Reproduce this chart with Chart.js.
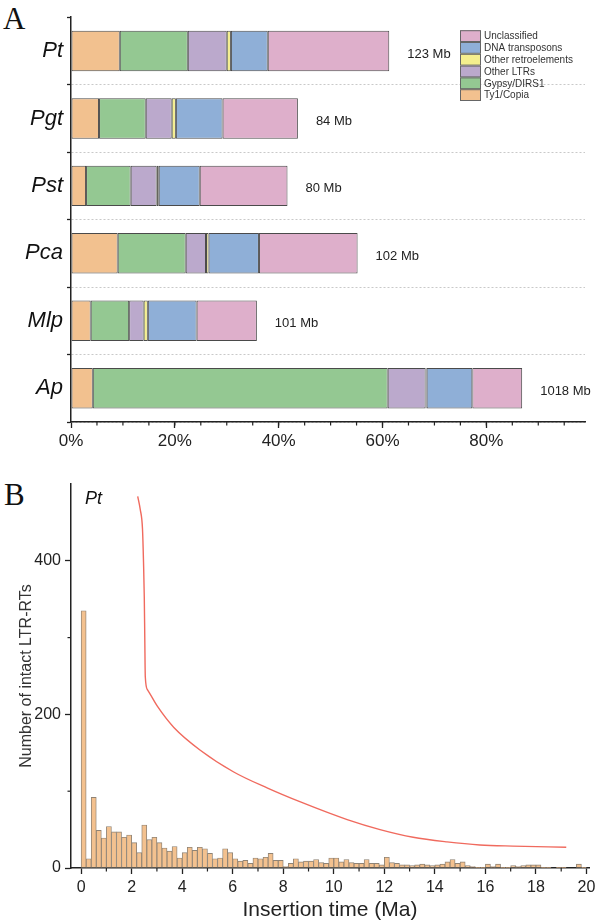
<!DOCTYPE html>
<html>
<head>
<meta charset="utf-8">
<script src="https://cdn.jsdelivr.net/npm/chart.js@4.4.0/dist/chart.umd.min.js"></script>
<style>
  body { margin: 0; background: #fff; width: 600px; height: 923px; position: relative; overflow: hidden; font-family: 'Liberation Sans', Arial, sans-serif; }
  #cajaA { position: absolute; left: 0; top: 0; }
  #cajaB { position: absolute; left: 0; top: 460px; }
  .letra { position: absolute; font-family: 'Liberation Serif', 'Times New Roman', serif; font-size: 31px; line-height: 1; color: #111; }
</style>
</head>
<body>
<div class="letra" style="left:3px;top:3px">A</div>
<div class="letra" style="left:4px;top:479px">B</div>
<canvas id="cajaA" width="600" height="460"></canvas>
<canvas id="cajaB" width="600" height="463"></canvas>
<script>
// ---------------- Panel A: composicion de elementos repetidos (% del genoma)
const especies = ['Pt', 'Pgt', 'Pst', 'Pca', 'Mlp', 'Ap'];
const tamanos = ['123 Mb', '84 Mb', '80 Mb', '102 Mb', '101 Mb', '1018 Mb'];
const ty1Copia = [9.4, 5.4, 2.9, 9.0, 3.8, 4.2];
const gypsyDirs = [13.1, 9.0, 8.6, 13.1, 7.4, 56.8];
const otrosLTR = [7.5, 5.0, 5.0, 3.9, 2.8, 7.3];
const otrosRetro = [0.8, 0.8, 0.4, 0.5, 0.8, 0.2];
const transposonesADN = [7.1, 9.0, 7.9, 9.7, 9.4, 8.8];
const sinClasificar = [23.4, 14.5, 16.9, 19.0, 11.6, 9.6];
const ticksPorcentaje = [0, 20, 40, 60, 80];

// ---------------- Panel B: tiempo de insercion de LTR-RTs intactos (bins de 0.2 Ma)
const anchoBin = 0.2;
const conteosPt = [
  335, 12, 92, 49, 39, 54, 47, 47, 40, 43,
  33, 20, 56, 37, 40, 33, 26, 22, 28, 13,
  20, 27, 23, 27, 25, 19, 12, 13, 25, 20,
  12, 9, 10, 6, 13, 12, 14, 19, 10, 10,
  2, 6, 12, 8, 9, 9, 11, 7, 6, 13,
  13, 8, 11, 7, 6, 6, 11, 6, 6, 4,
  14, 7, 6, 4, 4, 3, 4, 5, 4, 3,
  4, 5, 8, 11, 6, 8, 3, 2, 1, 1,
  5, 2, 5, 1, 1, 3, 2, 3, 4, 4,
  4, 1, 1, 0, 1, 1, 0, 0, 5, 1
];
// curva roja (acumulada / ajuste)
const curvaX = [2.24, 2.34, 2.43, 2.47, 2.50, 2.52, 2.54, 2.63, 3.03, 3.67, 4.73, 6.04, 7.38, 8.68, 10.53, 11.83, 13.14, 14.48, 15.78, 17.08, 19.2];
const curvaY = [484, 467, 441, 398, 353, 300, 249, 232, 210, 183, 153, 125, 104, 86, 63, 50, 40, 34, 30, 28.5, 27];

const colores = ['#F2C18F', '#94C892', '#BBA9CC', '#F4EE8E', '#8FAFD7', '#DEAFCB'];
const fuente = "'Liberation Sans', Arial, sans-serif";

// marcas menores de los ejes (el chart solo pone las mayores)
const marcasMenores = {
  id: 'marcasMenores',
  afterDraw(chart, args, opts) {
    const ctx = chart.ctx;
    (opts.ejes || []).forEach(e => {
      const escala = chart.scales[e.id];
      ctx.save();
      ctx.strokeStyle = '#222';
      ctx.lineWidth = 1.2;
      for (let v = e.desde; v <= e.hasta + 1e-9; v += e.paso) {
        const p = escala.getPixelForValue(v);
        ctx.beginPath();
        if (escala.isHorizontal()) { ctx.moveTo(p, escala.top); ctx.lineTo(p, escala.top + e.largo); }
        else { ctx.moveTo(escala.right, p); ctx.lineTo(escala.right - e.largo, p); }
        ctx.stroke();
      }
      ctx.restore();
    });
  }
};

// etiquetas "123 Mb" al final de cada barra
const etiquetasTamano = {
  id: 'etiquetasTamano',
  afterDatasetsDraw(chart) {
    const ctx = chart.ctx;
    const meta = chart.getDatasetMeta(chart.data.datasets.length - 1);
    ctx.save();
    ctx.font = '13px ' + fuente;
    ctx.fillStyle = '#222';
    ctx.textBaseline = 'middle';
    meta.data.forEach((barra, i) => {
      ctx.fillText(tamanos[i], barra.x + 18, barra.y + 3);
    });
    ctx.restore();
  }
};

// leyenda chica arriba a la derecha, en orden inverso
const leyendaA = {
  id: 'leyendaA',
  afterDraw(chart) {
    const ctx = chart.ctx;
    const area = chart.chartArea;
    const x0 = area.right - 125, y0 = area.top + 13, alto = 11.8;
    const ds = chart.data.datasets.slice().reverse();
    ctx.save();
    ctx.font = '10px ' + fuente;
    ctx.textBaseline = 'middle';
    ds.forEach((d, i) => {
      const y = y0 + i * alto;
      ctx.fillStyle = d.backgroundColor;
      ctx.fillRect(x0, y, 21, alto);
      ctx.strokeStyle = '#666';
      ctx.lineWidth = 1;
      ctx.strokeRect(x0 + 0.5, y + 0.5, 20, alto - 1);
      ctx.fillStyle = '#333';
      ctx.fillText(d.label, x0 + 24, y + alto / 2 + 0.5);
    });
    ctx.restore();
  }
};

const nombresSeries = ['Ty1/Copia', 'Gypsy/DIRS1', 'Other LTRs', 'Other retroelements', 'DNA transposons', 'Unclassified'];
const valoresSeries = [ty1Copia, gypsyDirs, otrosLTR, otrosRetro, transposonesADN, sinClasificar];

const mychart1 = new Chart(document.getElementById('cajaA'), {
  type: 'bar',
  data: {
    labels: especies,
    datasets: valoresSeries.map((v, i) => ({
      label: nombresSeries[i],
      data: v,
      backgroundColor: colores[i],
      borderColor: '#4a4a4a',
      borderWidth: 1,
      borderSkipped: false,
      barPercentage: 0.6,
      categoryPercentage: 1
    }))
  },
  options: {
    indexAxis: 'y',
    responsive: false,
    animation: false,
    devicePixelRatio: 1,
    layout: { padding: { left: 0, top: 7, right: 15, bottom: 0 } },
    plugins: {
      legend: { display: false },
      tooltip: { enabled: false },
      marcasMenores: { ejes: [{ id: 'x', desde: 5, hasta: 95, paso: 5, largo: 3.5 }] }
    },
    scales: {
      x: {
        stacked: true,
        min: 0,
        max: 99,
        afterFit(s) { s.height = 38; },
        ticks: {
          stepSize: 20,
          includeBounds: false,
          color: '#222',
          font: { size: 17, family: fuente },
          padding: 3,
          callback: v => ticksPorcentaje.includes(v) ? v + '%' : ''
        },
        grid: { drawOnChartArea: false, tickLength: 6, tickColor: '#222', tickWidth: 1.3 },
        border: { color: '#222', width: 1.5 }
      },
      y: {
        stacked: true,
        afterFit(s) { s.width = 71; },
        ticks: {
          color: '#111',
          font: { size: 22, style: 'italic', family: fuente },
          padding: 4
        },
        grid: {
          color: c => c.index === 0 ? 'rgba(0,0,0,0)' : '#c9c9c9',
          lineWidth: 1,
          tickLength: 4,
          tickColor: '#222',
          tickWidth: 1.3
        },
        border: { color: '#222', width: 1.5, dash: [2, 2] }
      }
    }
  },
  plugins: [etiquetasTamano, leyendaA, marcasMenores]
});

// ---------------- Panel B
const textoPt = {
  id: 'textoPt',
  afterDraw(chart) {
    const ctx = chart.ctx;
    ctx.save();
    ctx.font = 'italic 18px ' + fuente;
    ctx.fillStyle = '#111';
    ctx.textBaseline = 'middle';
    ctx.fillText('Pt', chart.chartArea.left + 14, chart.chartArea.top + 15);
    ctx.restore();
  }
};

const mychart2 = new Chart(document.getElementById('cajaB'), {
  type: 'bar',
  data: {
    datasets: [
      {
        type: 'line',
        data: curvaX.map((x, i) => ({ x: x, y: curvaY[i] })),
        borderColor: '#F06A5E',
        borderWidth: 1.4,
        pointRadius: 0,
        fill: false,
        cubicInterpolationMode: 'monotone'
      },
      {
        type: 'bar',
        data: conteosPt.map((c, i) => ({ x: (i + 0.5) * anchoBin, y: c })),
        backgroundColor: '#F3C18F',
        borderColor: '#8f8375',
        borderWidth: 0.9,
        borderSkipped: false,
        barPercentage: 1,
        categoryPercentage: 1,
        grouped: false
      }
    ]
  },
  options: {
    responsive: false,
    animation: false,
    devicePixelRatio: 1,
    layout: { padding: { left: 0, top: 24, right: 11, bottom: 0 } },
    plugins: {
      legend: { display: false },
      tooltip: { enabled: false },
      marcasMenores: {
        ejes: [
          { id: 'x', desde: 1, hasta: 19, paso: 2, largo: 3.5 },
          { id: 'y', desde: 100, hasta: 300, paso: 200, largo: 3.5 }
        ]
      }
    },
    scales: {
      x: {
        type: 'linear',
        min: -0.4,
        max: 20.1,
        offset: false,
        afterFit(s) { s.height = 55; },
        ticks: { stepSize: 2, includeBounds: false, color: '#222', font: { size: 16, family: fuente }, padding: 4 },
        grid: { drawOnChartArea: false, offset: false, tickLength: 6, tickColor: '#222', tickWidth: 1.3 },
        border: { color: '#222', width: 1.5 },
        title: { display: true, text: 'Insertion time (Ma)', color: '#222', font: { size: 21, family: fuente }, padding: { top: 0, bottom: 0 } }
      },
      y: {
        min: 0,
        max: 500,
        afterFit(s) { s.width = 71; },
        ticks: { stepSize: 200, includeBounds: false, color: '#222', font: { size: 16, family: fuente }, padding: 4 },
        grid: { drawOnChartArea: false, tickLength: 6, tickColor: '#222', tickWidth: 1.3 },
        border: { color: '#222', width: 1.5 },
        title: { display: true, text: 'Number of intact LTR-RTs', color: '#333', font: { size: 16, family: fuente }, padding: { top: 17, bottom: 0 } }
      }
    }
  },
  plugins: [textoPt, marcasMenores]
});
</script>
</body>
</html>
